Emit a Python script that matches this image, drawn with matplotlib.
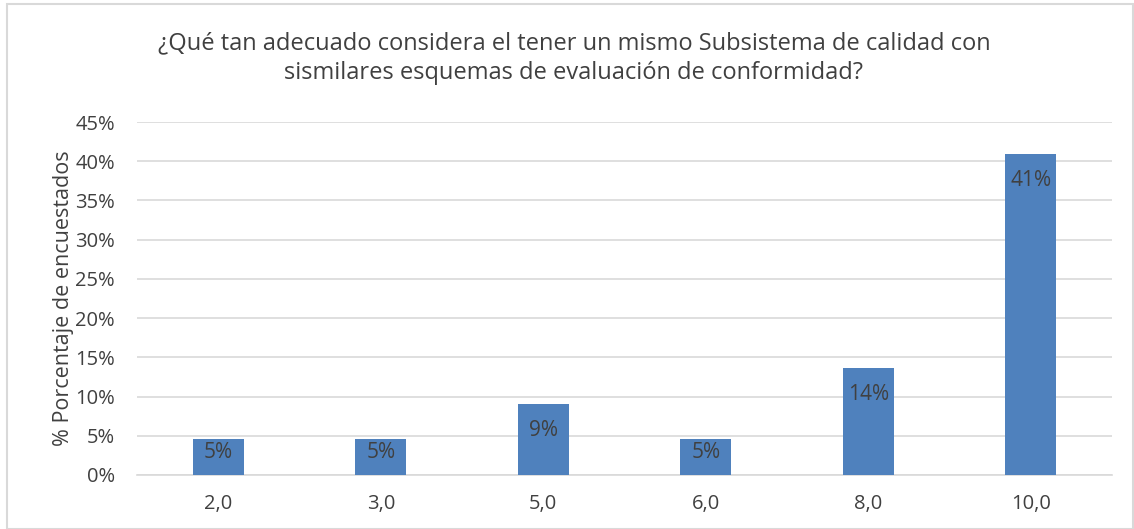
import matplotlib
matplotlib.use("Agg")
import matplotlib.pyplot as plt
from matplotlib.patches import Rectangle

categories = ["2,0", "3,0", "5,0", "6,0", "8,0", "10,0"]
values = [0.0455, 0.0455, 0.0909, 0.0455, 0.1364, 0.4091]
labels = ["5%", "5%", "9%", "5%", "14%", "41%"]
yticks = [0, 0.05, 0.10, 0.15, 0.20, 0.25, 0.30, 0.35, 0.40, 0.45]
ytick_labels = ["0%", "5%", "10%", "15%", "20%", "25%", "30%", "35%", "40%", "45%"]
title = "¿Qué tan adecuado considera el tener un mismo Subsistema de calidad con\nsismilares esquemas de evaluación de conformidad?"
ylabel = "% Porcentaje de encuestados"

plt.rcParams['font.family'] = ['Open Sans', 'DejaVu Sans']
txt = "#404040"

fig = plt.figure(figsize=(11.34, 5.29), dpi=100)
fig.patches.append(Rectangle((7/1134, 0), 1 - 8/1134, 1 - 4/529, transform=fig.transFigure,
                             fill=False, edgecolor="#D9D9D9", linewidth=1.5))
ax = fig.add_axes([137/1134, 1 - 475/529, (1112-137)/1134, (475-122)/529])

x = list(range(len(categories)))
bars = ax.bar(x, values, width=0.315, color="#4F81BD", zorder=3)
for b, lab in zip(bars, labels):
    h = b.get_height()
    ax.text(b.get_x() + b.get_width()/2, max(h - 0.034, 0.029), lab,
            ha="center", va="center", fontsize=15, color=txt, zorder=4)

ax.set_xlim(-0.5, len(categories) - 0.5)
ax.set_ylim(0, 0.45)
ax.set_yticks(yticks)
ax.set_yticklabels(ytick_labels)
ax.set_xticks(x)
ax.set_xticklabels(categories)
ax.tick_params(axis="both", length=0, labelsize=14.5, colors=txt)
ax.tick_params(axis="x", pad=14)
ax.tick_params(axis="y", pad=16)
ax.yaxis.grid(True, color="#D9D9D9", linewidth=1.2, zorder=0)
for s in ["top", "right", "left"]:
    ax.spines[s].set_visible(False)
ax.spines["bottom"].set_color("#D9D9D9")
ax.spines["bottom"].set_linewidth(1.2)
ax.set_ylabel(ylabel, fontsize=15.5, color=txt, labelpad=1)

fig.text(574/1134, 1 - 58/529, title, ha="center", va="center", fontsize=17,
         color=txt, linespacing=1.3)

fig.savefig("out.png", dpi=100)
